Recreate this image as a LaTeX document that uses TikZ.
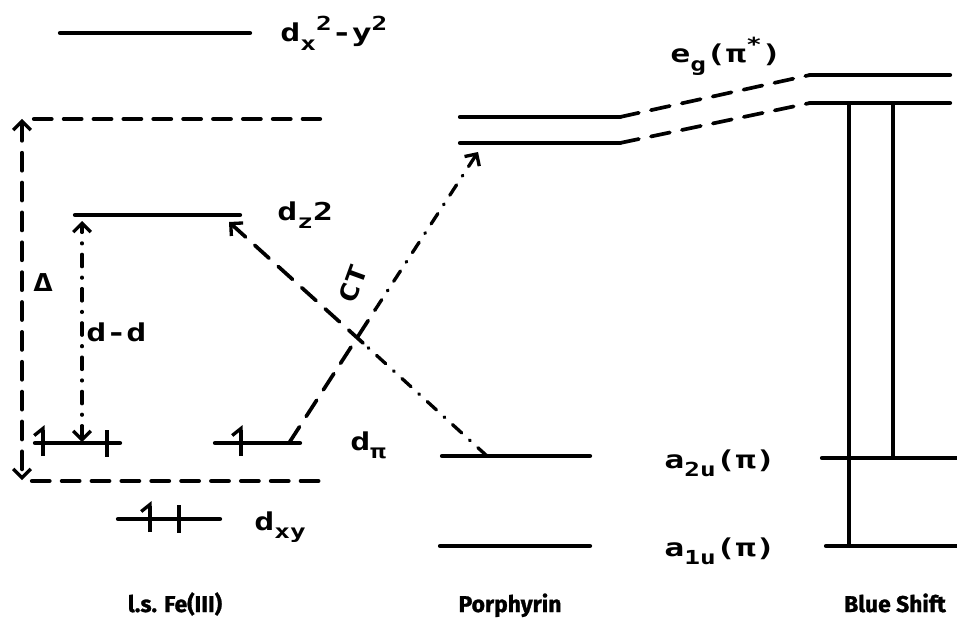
\documentclass[tikz,border=0pt]{standalone}
\usepackage{fontspec}
\setmainfont{DejaVu Sans Mono}[FakeStretch=1.35]
\newfontfamily\capfont{Fira Sans}[BoldFeatures={FakeBold=1.2}]
\usetikzlibrary{arrows.meta}
% smaller lowered / raised text for orbital labels
\newcommand\lo[1]{\raisebox{-0.6ex}{\fontsize{11}{13}\selectfont #1}}
\newcommand\hi[1]{\raisebox{0.85ex}{\fontsize{11}{13}\selectfont #1}}

\begin{document}
\begin{tikzpicture}[x=0.02cm,y=-0.02cm,
  level/.style={line width=2.4pt, line cap=round},
  dlevel/.style={line width=2.4pt, line cap=round, dash pattern=on 10pt off 7pt},
  longdash/.style={line width=2.1pt, line cap=round, dash pattern=on 11pt off 7pt},
  dashdotted/.style={line width=1.9pt, line cap=round, dash pattern=on 7pt off 6pt on 0.5pt off 6pt},
  endtip/.style={-{Straight Barb[length=5pt,width=10pt,line width=1.9pt]}},
  bothtips/.style={{Straight Barb[length=5pt,width=10pt,line width=1.9pt]}-{Straight Barb[length=5pt,width=10pt,line width=1.9pt]}},
  spinup/.style={line width=1.9pt, -{Straight Barb[harpoon,length=4pt,width=10pt,line width=1.9pt]}},
  spindown/.style={line width=1.9pt},
  lbl/.style={font=\bfseries\fontsize{14}{16}\selectfont, inner sep=0pt, anchor=base west},
  captext/.style={font=\capfont\bfseries\fontsize{13}{15}\selectfont, inner sep=0pt, anchor=base}]
\useasboundingbox (0,0) rectangle (957,625);

% ---------------- Fe(III) d levels ----------------
\coordinate (xyL) at (60,33);   \coordinate (xyR) at (250,33);
\draw[level] (xyL) -- (xyR);
\node[lbl] (lxy) at (280,42) {d\lo{x}\hi{2}-y\hi{2}};

\coordinate (zL) at (75,215);   \coordinate (zR) at (240,215);
\draw[level] (zL) -- (zR);
\node[lbl] (lz) at (277,220) {d\lo{z}2};

\coordinate (p1L) at (35,443);  \coordinate (p1R) at (120,443);
\coordinate (p2L) at (215,443); \coordinate (p2R) at (300,443);
\draw[level] (p1L) -- (p1R);
\draw[level] (p2L) -- (p2R);
\node[lbl] (lpi) at (350,450) {d\lo{π}};

\coordinate (bL) at (118,519);  \coordinate (bR) at (220,519);
\draw[level] (bL) -- (bR);
\node[lbl] (lb) at (254,530) {d\lo{xy}};

% electrons
\coordinate (s1a) at (43,456);  \coordinate (s1b) at (43,425);
\coordinate (s2a) at (107,430); \coordinate (s2b) at (107,457);
\coordinate (s3a) at (241,456); \coordinate (s3b) at (241,425);
\coordinate (s4a) at (150,532); \coordinate (s4b) at (150,501);
\coordinate (s5a) at (179,505); \coordinate (s5b) at (179,533);
\draw[spinup] (s1a) -- (s1b);
\draw[spindown] (s2a) -- (s2b);
\draw[spinup] (s3a) -- (s3b);
\draw[spinup] (s4a) -- (s4b);
\draw[spindown] (s5a) -- (s5b);

% ligand field splitting box
\coordinate (bxTL) at (34,119); \coordinate (bxTR) at (320,119);
\coordinate (bxBL) at (32,481); \coordinate (bxBR) at (322,481);
\coordinate (dTop) at (22,119); \coordinate (dBot) at (22,480);
\draw[dlevel] (bxTL) -- (bxTR);
\draw[dlevel] (bxBL) -- (bxBR);
\draw[dlevel, bothtips] (dTop) -- (dBot);
\node[lbl, anchor=center] (ldelta) at (43,283) {Δ};

% d-d transition
\coordinate (ddTop) at (82,221); \coordinate (ddBot) at (82,442);
\draw[dashdotted, bothtips] (ddBot) -- (ddTop);
\node[lbl] (ldd) at (86,341) {d-d};

% ---------------- Porphyrin levels ----------------
\coordinate (e1L) at (460,117); \coordinate (e1R) at (620,117);
\coordinate (e2L) at (460,143); \coordinate (e2R) at (620,143);
\draw[level] (e1L) -- (e1R);
\draw[level] (e2L) -- (e2R);
\node[lbl] (leg) at (670,63) {e\lo{g}(π\hi{*})};

\coordinate (a2L) at (442,456); \coordinate (a2R) at (590,456);
\coordinate (a1L) at (440,546); \coordinate (a1R) at (590,546);
\draw[level] (a2L) -- (a2R);
\draw[level] (a1L) -- (a1R);
\node[lbl] (la2) at (664,468) {a\lo{2u}(π)};
\node[lbl] (la1) at (664,556) {a\lo{1u}(π)};

% ---------------- Blue shifted levels ----------------
\coordinate (B1L) at (810,75);  \coordinate (B1R) at (950,75);
\coordinate (B2L) at (810,103); \coordinate (B2R) at (950,103);
\coordinate (B3L) at (822,458); \coordinate (B3R) at (957,458);
\coordinate (B4L) at (826,546); \coordinate (B4R) at (957,546);
\draw[level] (B1L) -- (B1R);
\draw[level] (B2L) -- (B2R);
\draw[level] (B3L) -- (B3R);
\draw[level] (B4L) -- (B4R);
\draw[longdash] (e1R) -- (B1L);
\draw[longdash] (e2R) -- (B2L);

\coordinate (v1T) at (849,103); \coordinate (v1B) at (849,546);
\coordinate (v2T) at (893,103); \coordinate (v2B) at (893,458);
\draw[line width=1.9pt] (v1T) -- (v1B);
\draw[line width=1.9pt] (v2T) -- (v2B);

% ---------------- charge transfer transitions ----------------
% a2u(pi) -> dz2
\coordinate (aStart) at (487,456);
\coordinate (aMid)   at (363,343);
\coordinate (zEnd)   at (229,222);
\draw[dashdotted] (aStart) -- (aMid);
\draw[longdash, endtip] (aMid) -- (zEnd);

% d_pi -> eg(pi*)
\coordinate (pStart) at (289,443);
\coordinate (pMid)   at (375,310);
\coordinate (eEnd)   at (478,152);
\draw[longdash] (pStart) -- (pMid);
\draw[dashdotted, endtip] (pMid) -- (eEnd);
\node[lbl, anchor=center, rotate=70] (lct) at (353,284) {CT};

% ---------------- captions ----------------
\node[captext] (c1) at (175,612) {l.s. Fe(III)};
\node[captext] (c2) at (510,612) {Porphyrin};
\node[captext] (c3) at (895,612) {Blue Shift};
\end{tikzpicture}
\end{document}
